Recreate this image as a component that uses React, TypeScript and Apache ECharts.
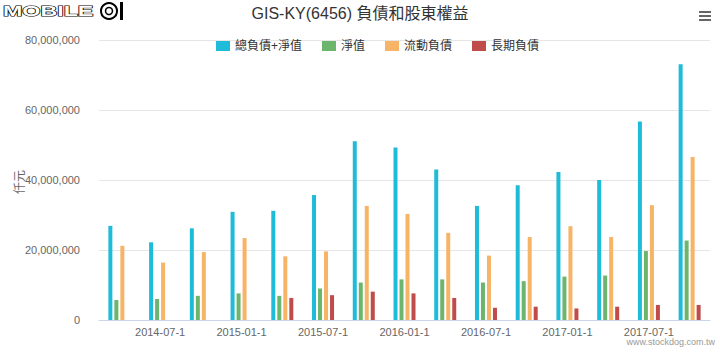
import React, { useEffect, useRef } from "react";
import * as echarts from "echarts";

const categories = [
  "2014-04-1", "2014-07-1", "2014-10-1", "2015-01-1", "2015-04-1", "2015-07-1", "2015-10-1",
  "2016-01-1", "2016-04-1", "2016-07-1", "2016-10-1", "2017-01-1", "2017-04-1", "2017-07-1", "2017-10-1",
];
const totalValues = [26900000, 22200000, 26200000, 30900000, 31200000, 35700000, 51100000, 49300000, 43000000, 32600000, 38500000, 42300000, 40000000, 56700000, 73100000];
const equityValues = [5700000, 6000000, 6900000, 7600000, 6900000, 9000000, 10700000, 11600000, 11600000, 10700000, 11100000, 12400000, 12700000, 19700000, 22700000];
const currentLiab = [21200000, 16400000, 19400000, 23400000, 18200000, 19600000, 32600000, 30300000, 24900000, 18400000, 23700000, 26800000, 23700000, 32800000, 46600000];
const longLiab = [0, 0, 0, 0, 6300000, 7100000, 8100000, 7600000, 6300000, 3500000, 3800000, 3300000, 3800000, 4300000, 4300000];
const seriesNames = ["總負債+淨值", "淨值", "流動負債", "長期負債"];
const seriesColors = ["#1ebcd8", "#6cb56c", "#f7b366", "#bf4b4b"];
const yAxisTitle = "仟元";

const FONT = "'Liberation Sans', Arial, 'Noto Sans CJK TC', sans-serif";

export default function App() {
  const ref = useRef<HTMLDivElement>(null);
  useEffect(() => {
    if (!ref.current) return;
    const chart = echarts.init(ref.current, undefined, { renderer: "svg" });
    const data = [totalValues, equityValues, currentLiab, longLiab];
    const showOdd = (idx: number) => idx % 2 === 1;
    chart.setOption({
      animation: false,
      textStyle: { fontFamily: FONT },
      title: {
        text: "GIS-KY(6456) 負債和股東權益",
        left: "center",
        top: 0,
        textStyle: { fontSize: 16, fontWeight: "normal", color: "#333", fontFamily: FONT },
      },
      legend: {
        top: 35,
        left: 211,
        itemWidth: 14,
        itemHeight: 10,
        itemGap: 20,
        icon: "rect",
        textStyle: { fontSize: 12, color: "#333", fontFamily: FONT },
        data: seriesNames,
      },
      grid: { left: 99, right: 10, top: 40, bottom: 36 },
      xAxis: {
        type: "category",
        data: categories,
        axisLine: { lineStyle: { color: "#ccd6eb" } },
        axisTick: { alignWithLabel: true, interval: showOdd, length: 8, lineStyle: { color: "#ccd6eb" } },
        axisLabel: { interval: showOdd, color: "#666", fontSize: 11, margin: 6, fontFamily: FONT },
      },
      yAxis: {
        type: "value",
        min: 0,
        max: 80000000,
        interval: 20000000,
        axisLine: { show: false },
        axisTick: { show: false },
        splitLine: { lineStyle: { color: "#e6e6e6" } },
        axisLabel: {
          color: "#666",
          fontSize: 11,
          margin: 19,
          fontFamily: FONT,
          formatter: (v: number) => v.toLocaleString("en-US"),
        },
      },
      series: seriesNames.map((name, i) => ({
        name,
        type: "bar",
        data: data[i],
        barWidth: 4,
        barGap: "50%",
        itemStyle: { color: seriesColors[i] },
      })),
      graphic: [
        {
          type: "text",
          x: 20,
          y: 182,
          rotation: Math.PI / 2,
          style: {
            text: yAxisTitle,
            fontSize: 12,
            fill: "#666",
            fontFamily: FONT,
            align: "center",
            verticalAlign: "middle",
          },
        },
        {
          type: "text",
          x: 3,
          y: 3,
          scaleX: 1.55,
          style: {
            text: "MOBILE",
            fontSize: 15,
            fontWeight: "bold",
            fontFamily: FONT,
            fill: "#fff",
            stroke: "#000",
            lineWidth: 1.2,
          },
        },
        {
          type: "circle",
          shape: { cx: 109, cy: 11, r: 8 },
          style: { fill: "#fff", stroke: "#000", lineWidth: 2 },
        },
        {
          type: "circle",
          shape: { cx: 109, cy: 11, r: 3.5 },
          style: { fill: "none", stroke: "#000", lineWidth: 1.5 },
        },
        {
          type: "rect",
          shape: { x: 120, y: 2, width: 3, height: 18 },
          style: { fill: "#000" },
        },
        { type: "rect", shape: { x: 699, y: 11, width: 12, height: 2 }, style: { fill: "#666" } },
        { type: "rect", shape: { x: 699, y: 15, width: 12, height: 2 }, style: { fill: "#666" } },
        { type: "rect", shape: { x: 699, y: 19, width: 12, height: 2 }, style: { fill: "#666" } },
        {
          type: "text",
          right: 5,
          top: 337,
          style: { text: "www.stockdog.com.tw", fontSize: 9, fill: "#999", fontFamily: FONT },
        },
      ],
    });
    return () => chart.dispose();
  }, []);
  return <div ref={ref} style={{ width: 720, height: 356, position: "absolute", left: 0, top: 0 }} />;
}
